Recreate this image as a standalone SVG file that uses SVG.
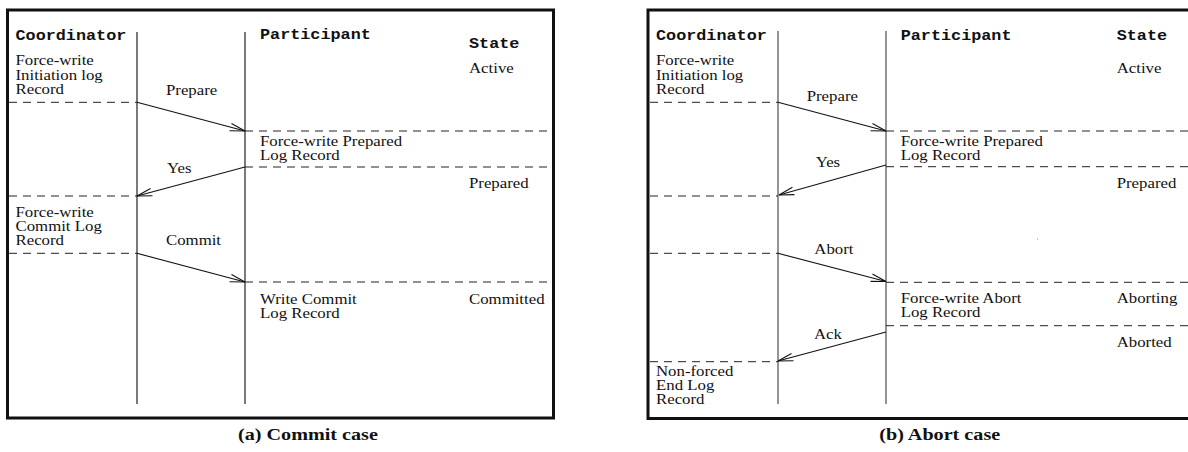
<svg xmlns="http://www.w3.org/2000/svg" width="1188" height="452" viewBox="0 0 1188 452">
<style>
.frame{fill:none;stroke:#111;stroke-width:3}
.life{stroke:#222;stroke-width:1.2;fill:none}
.lifeb{stroke:#666;stroke-width:1.4;fill:none}
.dash{stroke:#222;stroke-width:1;stroke-dasharray:8,6;fill:none}
.msg{stroke:#111;stroke-width:1.1;fill:none;marker-end:url(#arr)}
.mono{font-family:"Liberation Mono","Courier New",monospace;font-weight:bold;font-size:14px;fill:#111}
.ser{font-family:"Liberation Serif","Times New Roman",serif;font-size:14px;fill:#111}
.cap{font-family:"Liberation Serif","Times New Roman",serif;font-weight:bold;font-size:16.8px;fill:#111}
</style>
<defs>
<marker id="arr" markerWidth="18" markerHeight="12" refX="16" refY="6" orient="auto" markerUnits="userSpaceOnUse">
<path d="M1,2.2 L16,6 L1,9.8" fill="none" stroke="#111" stroke-width="1.1"/>
</marker>
</defs>
<rect x="0" y="0" width="1188" height="452" fill="#fff"/>

<!-- Panel (a) -->
<g id="panel-a">
<rect class="frame" x="7.5" y="10" width="546" height="408"/>
<g id="a-lifelines">
<line class="life" x1="137" y1="32" x2="137" y2="404"/>
<line class="life" x1="245" y1="32" x2="245" y2="404"/>
</g>
<g id="a-connectors">
<line class="dash" x1="9" y1="102.3" x2="137" y2="102.3"/>
<line class="dash" x1="245" y1="131" x2="552" y2="131"/>
<line class="dash" x1="245" y1="167" x2="552" y2="167"/>
<line class="dash" x1="9" y1="196" x2="137" y2="196"/>
<line class="dash" x1="9" y1="253.3" x2="137" y2="253.3"/>
<line class="dash" x1="245" y1="282" x2="552" y2="282"/>
<line class="msg" x1="137" y1="102.3" x2="245" y2="131"/>
<line class="msg" x1="245" y1="167" x2="137" y2="196"/>
<line class="msg" x1="137" y1="253.3" x2="245" y2="282"/>
</g>
<g id="a-labels" transform="scale(1.2,1)">
<g id="a-coordinator">
<text class="mono" x="12.92" y="40">Coordinator</text>
<text class="ser" x="12.92" y="65.5">Force-write</text>
<text class="ser" x="12.92" y="80">Initiation log</text>
<text class="ser" x="12.92" y="94.5">Record</text>
<text class="ser" x="12.92" y="217.5">Force-write</text>
<text class="ser" x="12.92" y="231.5">Commit Log</text>
<text class="ser" x="12.92" y="245.5">Record</text>
</g>
<g id="a-participant">
<text class="mono" x="216.67" y="39.5">Participant</text>
<text class="ser" x="216.67" y="146.3">Force-write Prepared</text>
<text class="ser" x="216.67" y="160">Log Record</text>
<text class="ser" x="216.67" y="304">Write Commit</text>
<text class="ser" x="216.67" y="317.8">Log Record</text>
</g>
<g id="a-state">
<text class="mono" x="390.83" y="48.3">State</text>
<text class="ser" x="390.83" y="73">Active</text>
<text class="ser" x="390.83" y="188">Prepared</text>
<text class="ser" x="390.83" y="304">Committed</text>
</g>
<g id="a-messages">
<text class="ser" x="138.33" y="95">Prepare</text>
<text class="ser" x="139.17" y="173">Yes</text>
<text class="ser" x="138.33" y="245.5">Commit</text>
</g>
<text class="cap" x="198.33" y="440">(a) Commit case</text>
</g>
</g>

<!-- Panel (b) -->
<g id="panel-b">
<rect class="frame" x="648" y="10" width="600" height="408.5"/>
<g id="b-lifelines">
<line class="lifeb" x1="778" y1="31" x2="778" y2="404"/>
<line class="lifeb" x1="886" y1="31" x2="886" y2="404"/>
</g>
<g id="b-connectors">
<line class="dash" x1="650" y1="102.3" x2="778" y2="102.3"/>
<line class="dash" x1="886" y1="131" x2="1188" y2="131"/>
<line class="dash" x1="886" y1="166.7" x2="1188" y2="166.7"/>
<line class="dash" x1="650" y1="196" x2="778" y2="196"/>
<line class="dash" x1="650" y1="253.3" x2="778" y2="253.3"/>
<line class="dash" x1="886" y1="282.3" x2="1188" y2="282.3"/>
<line class="dash" x1="886" y1="325.7" x2="1188" y2="325.7"/>
<line class="dash" x1="650" y1="361.7" x2="778" y2="361.7"/>
<line class="msg" x1="778" y1="102.3" x2="886" y2="131"/>
<line class="msg" x1="886" y1="165" x2="779" y2="195"/>
<line class="msg" x1="778" y1="253.3" x2="886" y2="281.5"/>
<line class="msg" x1="886" y1="332" x2="778" y2="361"/>
</g>
<rect x="1037" y="238.5" width="1" height="1" fill="#888"/>
<g id="b-labels" transform="scale(1.2,1)">
<g id="b-coordinator">
<text class="mono" x="546.67" y="40">Coordinator</text>
<text class="ser" x="546.67" y="65.5">Force-write</text>
<text class="ser" x="546.67" y="80">Initiation log</text>
<text class="ser" x="546.67" y="94.5">Record</text>
<text class="ser" x="546.67" y="376">Non-forced</text>
<text class="ser" x="546.67" y="390">End Log</text>
<text class="ser" x="546.67" y="404">Record</text>
</g>
<g id="b-participant">
<text class="mono" x="750.58" y="40">Participant</text>
<text class="ser" x="750.58" y="146.3">Force-write Prepared</text>
<text class="ser" x="750.58" y="160">Log Record</text>
<text class="ser" x="750.58" y="303.5">Force-write Abort</text>
<text class="ser" x="750.58" y="317.5">Log Record</text>
</g>
<g id="b-state">
<text class="mono" x="930.58" y="40.5">State</text>
<text class="ser" x="930.58" y="73">Active</text>
<text class="ser" x="930.58" y="188">Prepared</text>
<text class="ser" x="930.58" y="303.5">Aborting</text>
<text class="ser" x="930.58" y="347">Aborted</text>
</g>
<g id="b-messages">
<text class="ser" x="672.25" y="101.5">Prepare</text>
<text class="ser" x="679.75" y="166.7">Yes</text>
<text class="ser" x="678.58" y="254">Abort</text>
<text class="ser" x="678.33" y="339.3">Ack</text>
</g>
<text class="cap" x="732.75" y="440">(b) Abort case</text>
</g>
</g>
</svg>
